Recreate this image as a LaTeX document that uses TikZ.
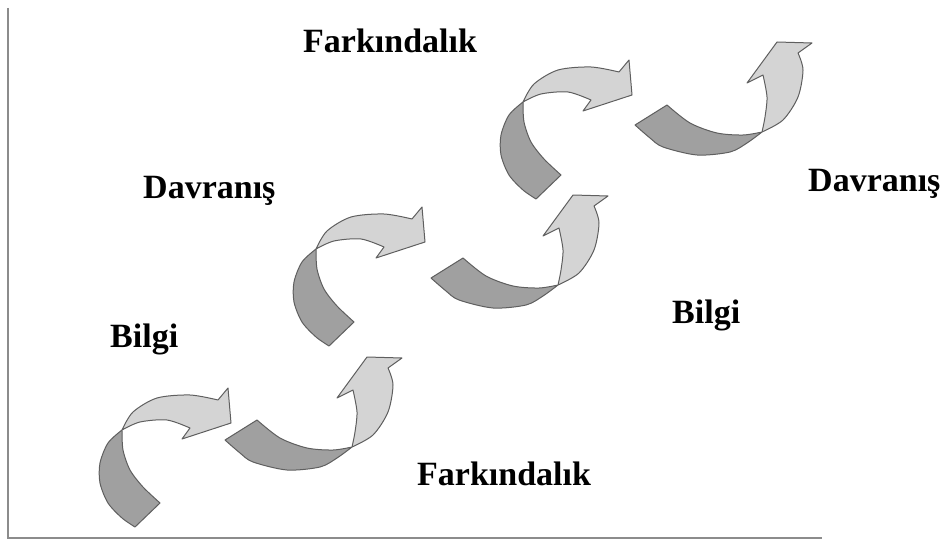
\documentclass[tikz,border=0pt]{standalone}
\usepackage{fontspec}
\setmainfont{Liberation Serif}
\usepackage{tikz}
\usetikzlibrary{calc}

\definecolor{lightband}{RGB}{212,212,212}
\definecolor{darkband}{RGB}{160,160,160}
\definecolor{edgegray}{RGB}{95,95,95}
\definecolor{axisgray}{RGB}{140,140,140}

\tikzset{
  lbl/.style={font=\fontsize{34}{40}\selectfont\bfseries, anchor=base west, inner sep=0pt},
  darkpart/.style={fill=darkband, draw=edgegray, line width=1pt, line join=round},
  lightpart/.style={fill=lightband, draw=edgegray, line width=1pt, line join=round},
  axis/.style={draw=axisgray, line width=2.5pt}
}

\begin{document}
\begin{tikzpicture}[x=1pt,y=-1pt]
        \useasboundingbox (0,0) rectangle (947,540);
        \coordinate (ytop) at (8,8);
        \coordinate (orig) at (8,538);
        \coordinate (xend) at (822,538);
        \draw[axis] (ytop) -- (orig) -- (xend);
        \foreach \ax/\ay/\bx/\by in {0/0/0/0, 194/-181/206/-162, 401/-328/410/-315}{
          \begin{scope}[shift={(\ax,\ay)}]
            \filldraw[darkpart] plot[smooth] coordinates {(122,430) (108,443) (100,463) (100,483) (108,503) (122,518) (135,527)}
              -- plot[smooth] coordinates {(160,503) (143,487) (130,470) (123,450) (122,430)} -- cycle;
            \filldraw[lightpart] plot[smooth] coordinates {(122,430) (133,412) (157,398) (190,395) (218,400)}
              -- (228,388) -- (231,423) -- (182,439) -- plot[smooth] coordinates {(190,428) (167,420) (140,422) (122,430)} -- cycle;
          \end{scope}
          \begin{scope}[shift={(\bx,\by)}]
            \filldraw[darkpart] plot[smooth] coordinates {(352,447) (337,458) (320,467) (287,470) (253,462) (240,453) (225,440)}
              -- plot[smooth] coordinates {(257,420) (280,438) (307,448) (333,450) (352,447)} -- cycle;
            \filldraw[lightpart] plot[smooth] coordinates {(352,447) (373,435) (388,412) (393,385) (388,368)}
              -- (402,358) -- (367,357) -- (337,398) -- plot[smooth] coordinates {(353,390) (357,412) (355,432) (352,447)} -- cycle;
          \end{scope}
        }
        \node[lbl] (farkTop) at (303,53) {Farkındalık};
        \node[lbl] (davLeft) at (143,198) {Davranış};
        \node[lbl] (bilgiLeft) at (110,347) {Bilgi};
        \node[lbl] (farkBot) at (417,485) {Farkındalık};
        \node[lbl] (bilgiRight) at (672,323) {Bilgi};
        \node[lbl] (davRight) at (808,192) {Davranış};
\end{tikzpicture}
\end{document}
